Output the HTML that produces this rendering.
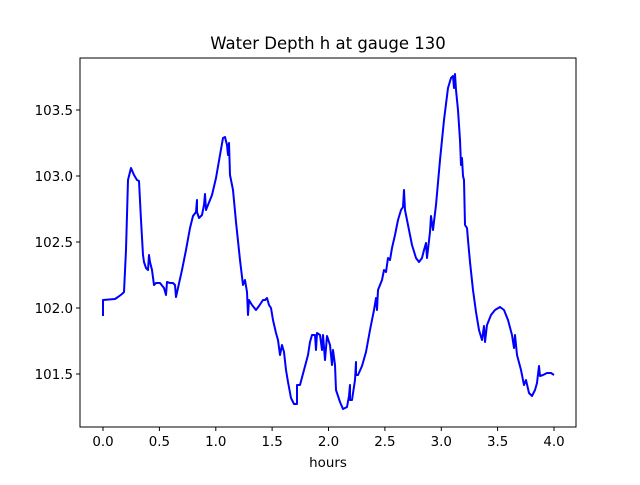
<!DOCTYPE html>
<html><head><style>
html,body{margin:0;padding:0;background:#fff;}
svg text{font-family:"DejaVu Sans","Liberation Sans",sans-serif;fill:#000;}
</style></head><body>
<svg width="640" height="480" viewBox="0 0 640 480" xmlns="http://www.w3.org/2000/svg">
<rect width="640" height="480" fill="#fff"/>
<polyline fill="none" stroke="#0000ff" stroke-width="2" stroke-linejoin="round" points="103,316 103,300 115,299 118,297 122,294 124,292 126,250 128,180 131,168 134,175 137,180 139,181 141,220 143,255 144,262 146,268 148,270 149,255 150,262 152,270 154,285 156,283 160,283 164,288 166,295 167,282 170,283 173,283 175,285 176,297 178,288 182,270 186,250 190,228 193,216 196,212 197,200 197,212 199,218 202,215 204,205 205,194 206,210 208,205 212,195 216,178 220,155 223,138 225,137 227,145 228,155 229,143 230,175 233,190 236,222 240,260 243,285 245,280 247,292 248,315 249,300 252,305 256,310 259,306 263,300 265,300 267,298 269,305 271,308 273,320 276,333 278,340 280,355 282,345 284,352 286,370 288,382 291,398 294,404 297,404 297,385 300,385 304,370 308,355 310,342 312,335 315,335 316,350 317,333 320,335 322,350 323,335 325,360 327,336 330,345 332,365 333,350 335,365 336,390 340,402 343,409 347,407 349,396 350,385 350,400 352,400 355,380 356,362 356,375 358,375 362,366 366,352 370,330 374,310 376,298 377,310 378,290 382,280 384,270 386,272 388,258 390,260 392,248 395,235 398,220 401,210 403,207 404,190 405,210 408,225 412,245 416,258 419,262 422,258 424,250 426,243 427,258 430,232 431,216 433,230 436,205 440,160 444,120 448,88 451,78 453,76 454,88 455,74 456,90 458,110 460,140 461,165 462,158 463,176 464,180 465,225 467,228 468,240 470,262 473,290 476,312 479,330 482,340 484,326 485,342 487,325 489,320 491,315 495,310 500,307 504,310 508,320 512,335 514,348 515,335 517,355 521,370 524,385 526,380 529,393 532,396 535,390 537,383 539,366 540,376 543,375 547,373 551,373 554,375"/>
<rect x="80" y="58" width="496" height="369" fill="none" stroke="#000" stroke-width="1"/>
<g stroke="#000" stroke-width="1">
<line x1="103" y1="427" x2="103" y2="431"/><line x1="159.4" y1="427" x2="159.4" y2="431"/><line x1="215.8" y1="427" x2="215.8" y2="431"/><line x1="272.1" y1="427" x2="272.1" y2="431"/><line x1="328.5" y1="427" x2="328.5" y2="431"/><line x1="384.9" y1="427" x2="384.9" y2="431"/><line x1="441.3" y1="427" x2="441.3" y2="431"/><line x1="497.6" y1="427" x2="497.6" y2="431"/><line x1="554" y1="427" x2="554" y2="431"/>
<line x1="76" y1="110" x2="80" y2="110"/><line x1="76" y1="176" x2="80" y2="176"/><line x1="76" y1="242" x2="80" y2="242"/><line x1="76" y1="308" x2="80" y2="308"/><line x1="76" y1="374" x2="80" y2="374"/>
</g>
<g font-size="13.4" text-anchor="middle">
<text x="103" y="446">0.0</text><text x="159.4" y="446">0.5</text><text x="215.8" y="446">1.0</text><text x="272.1" y="446">1.5</text><text x="328.5" y="446">2.0</text><text x="384.9" y="446">2.5</text><text x="441.3" y="446">3.0</text><text x="497.6" y="446">3.5</text><text x="554" y="446">4.0</text>
<text x="328" y="467">hours</text>
</g>
<g font-size="13.4" text-anchor="end">
<text x="73" y="115">103.5</text><text x="73" y="181">103.0</text><text x="73" y="247">102.5</text><text x="73" y="313">102.0</text><text x="73" y="379">101.5</text>
</g>
<text x="328" y="49" font-size="16.5" text-anchor="middle">Water Depth h at gauge 130</text>
</svg>
</body></html>
